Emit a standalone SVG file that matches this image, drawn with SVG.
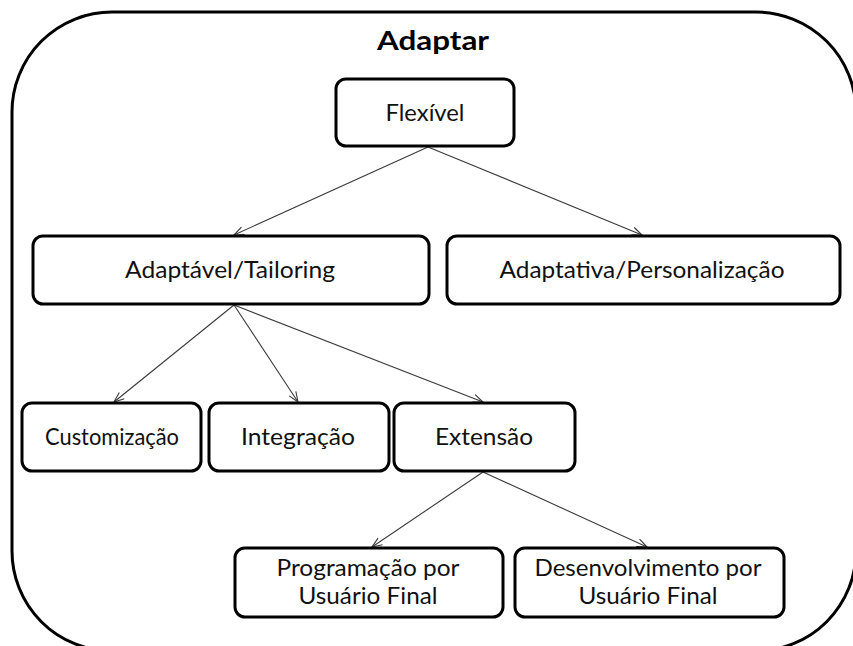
<svg xmlns="http://www.w3.org/2000/svg" width="853" height="646" viewBox="0 0 853 646">
  <style>
    .frame { fill: #ffffff; stroke: #000000; stroke-width: 3; }
    .box { fill: #ffffff; stroke: #000000; stroke-width: 3; }
    .label { font-family: Lato, "Open Sans", "Liberation Sans", sans-serif; font-size: 23.5px; fill: #111111; text-anchor: middle; }
    .title { font-family: Lato, "Open Sans", "Liberation Sans", sans-serif; font-size: 26px; font-weight: bold; fill: #000000; text-anchor: middle; }
    .link { stroke: #3a3a3a; stroke-width: 1.1; fill: none; }
  </style>
  <defs>
    <marker id="arrow" viewBox="0 0 12 10" refX="11" refY="5" markerWidth="12" markerHeight="10" orient="auto" markerUnits="userSpaceOnUse">
      <path d="M1,1 L11,5 L1,9" fill="none" stroke="#3a3a3a" stroke-width="1.1"/>
    </marker>
  </defs>

  <rect width="853" height="646" fill="#ffffff"/>

  <!-- outer container -->
  <g id="adaptar">
    <rect class="frame" x="12" y="12" width="844" height="639" rx="100" ry="100"/>
    <text class="title" x="433" y="50" textLength="112" lengthAdjust="spacingAndGlyphs">Adaptar</text>
  </g>

  <!-- connectors -->
  <g id="connectors">
    <line class="link" x1="428" y1="147" x2="234" y2="235" marker-end="url(#arrow)"/>
    <line class="link" x1="428" y1="147" x2="642" y2="235" marker-end="url(#arrow)"/>
    <line class="link" x1="234" y1="305" x2="114" y2="402" marker-end="url(#arrow)"/>
    <line class="link" x1="234" y1="305" x2="298" y2="402" marker-end="url(#arrow)"/>
    <line class="link" x1="234" y1="305" x2="483" y2="402" marker-end="url(#arrow)"/>
    <line class="link" x1="483" y1="472" x2="372" y2="547" marker-end="url(#arrow)"/>
    <line class="link" x1="483" y1="472" x2="647" y2="547" marker-end="url(#arrow)"/>
  </g>

  <g id="flexivel">
    <rect class="box" x="336" y="79" width="178" height="67" rx="10"/>
    <text class="label" x="425" y="121" textLength="79" lengthAdjust="spacingAndGlyphs">Flexível</text>
  </g>

  <g id="adaptavel">
    <rect class="box" x="33" y="236" width="396" height="68" rx="10"/>
    <text class="label" x="230" y="278" textLength="210" lengthAdjust="spacingAndGlyphs">Adaptável/Tailoring</text>
  </g>

  <g id="adaptativa">
    <rect class="box" x="447" y="236" width="393" height="68" rx="10"/>
    <text class="label" x="642" y="278" textLength="285" lengthAdjust="spacingAndGlyphs">Adaptativa/Personalização</text>
  </g>

  <g id="customizacao">
    <rect class="box" x="22" y="403" width="179" height="68" rx="10"/>
    <text class="label" x="112" y="445" textLength="134" lengthAdjust="spacingAndGlyphs">Customização</text>
  </g>

  <g id="integracao">
    <rect class="box" x="209" y="403" width="180" height="68" rx="10"/>
    <text class="label" x="298" y="445" textLength="114" lengthAdjust="spacingAndGlyphs">Integração</text>
  </g>

  <g id="extensao">
    <rect class="box" x="394" y="403" width="181" height="68" rx="10"/>
    <text class="label" x="484" y="445" textLength="98" lengthAdjust="spacingAndGlyphs">Extensão</text>
  </g>

  <g id="programacao">
    <rect class="box" x="235" y="548" width="268" height="69" rx="10"/>
    <text class="label" x="368" y="576" textLength="183" lengthAdjust="spacingAndGlyphs">Programação por</text>
    <text class="label" x="368" y="604" textLength="139" lengthAdjust="spacingAndGlyphs">Usuário Final</text>
  </g>

  <g id="desenvolvimento">
    <rect class="box" x="515" y="548" width="269" height="69" rx="10"/>
    <text class="label" x="648" y="576" textLength="227" lengthAdjust="spacingAndGlyphs">Desenvolvimento por</text>
    <text class="label" x="648" y="604" textLength="139" lengthAdjust="spacingAndGlyphs">Usuário Final</text>
  </g>
</svg>
